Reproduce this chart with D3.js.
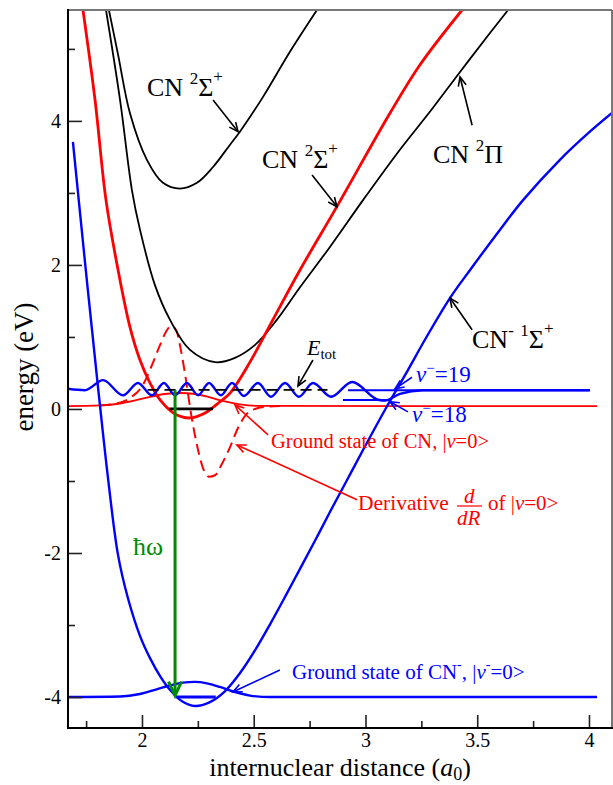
<!DOCTYPE html>
<html>
<head>
<meta charset="utf-8">
<script src="https://cdn.jsdelivr.net/npm/d3@7"></script>
<style>
  body { margin: 0; background: #fff; }
  text { font-family: "Liberation Serif", "Times New Roman", serif; }
</style>
</head>
<body>
<svg id="chart" width="613" height="785"></svg>
<script>
// ---- data (internuclear distance in a0, energy in eV) ----
var xMajor = [2, 2.5, 3, 3.5, 4];
var xMinor = [1.75, 2.25, 2.75, 3.25, 3.75];
var yMajor = [-4, -2, 0, 2, 4];
var yMinor = [-3, -1, 1, 3, 5];

// CN X 2Sigma+ potential (red)
var cnXPot = [[1.736,5.54],[1.790,4.29],[1.839,2.90],[1.893,1.93],[1.946,1.14],[1.991,0.68],
  [2.036,0.36],[2.081,0.125],[2.148,-0.07],[2.215,-0.125],[2.282,-0.056],[2.349,0.10],
  [2.394,0.22],[2.483,0.65],[2.586,1.24],[2.707,1.93],[2.872,2.81],[3.110,4.11],[3.244,4.78],[3.432,5.54]];
// CN A 2Pi potential (black)
var cnPiPot = [[1.839,5.54],[1.902,4.29],[1.955,3.04],[1.991,2.49],[2.058,1.72],[2.125,1.24],
  [2.215,0.82],[2.327,0.65],[2.416,0.71],[2.506,0.89],[2.604,1.24],[2.707,1.69],[2.841,2.25],
  [2.989,2.90],[3.154,3.60],[3.289,4.13],[3.423,4.68],[3.557,5.22],[3.638,5.54]];
// CN B 2Sigma+ potential (black)
var cnBPot = [[1.852,5.54],[1.893,4.92],[1.946,4.11],[2.022,3.46],[2.094,3.14],[2.170,3.06],
  [2.246,3.14],[2.318,3.36],[2.394,3.67],[2.438,3.85],[2.541,4.33],[2.662,4.96],[2.783,5.54]];
// CN- X 1Sigma+ potential (blue)
var anionPot = [[1.691,3.71],[1.745,2.04],[1.799,0.43],[1.848,-0.96],[1.893,-2.03],[1.937,-2.625],
  [1.991,-3.15],[2.036,-3.46],[2.081,-3.71],[2.125,-3.90],[2.179,-4.06],[2.237,-4.125],
  [2.304,-4.07],[2.371,-3.92],[2.438,-3.67],[2.506,-3.35],[2.573,-2.99],[2.640,-2.61],[2.707,-2.22],
  [2.774,-1.83],[2.841,-1.43],[2.917,-0.99],[2.989,-0.57],[3.087,-0.014],[3.177,0.47],[3.275,1.01],
  [3.378,1.54],[3.468,1.93],[3.602,2.49],[3.705,2.90],[3.870,3.46],[4.004,3.85],[4.103,4.11]];

// CN ground vibrational state |v=0> (red, thin) on its level
var cnGround = [[1.669,0.04],[1.812,0.049],[1.902,0.076],[1.969,0.118],[2.036,0.167],[2.103,0.208],
  [2.170,0.222],[2.237,0.208],[2.304,0.160],[2.371,0.104],[2.438,0.063],[2.528,0.042],[4.036,0.04]];
// derivative d/dR |v=0> (red, dashed)
var cnDeriv = [[1.812,0.049],[1.879,0.07],[1.946,0.153],[2.004,0.333],[2.045,0.611],[2.081,0.889],
  [2.107,1.07],[2.130,1.15],[2.152,1.10],[2.174,0.82],[2.197,0.40],[2.219,-0.056],[2.246,-0.50],
  [2.273,-0.82],[2.300,-0.94],[2.327,-0.92],[2.358,-0.76],[2.394,-0.53],[2.430,-0.26],[2.465,-0.083],
  [2.506,0.0],[2.550,0.028],[2.617,0.04]];
// CN- v=19 wavefunction (blue)
var anionV19 = [[1.669,0.28],[1.745,0.26],[1.826,0.40],[1.915,0.19],[1.982,0.36],[2.045,0.19],
  [2.098,0.36],[2.148,0.19],[2.201,0.36],[2.251,0.19],[2.300,0.36],[2.353,0.19],[2.403,0.36],
  [2.456,0.18],[2.519,0.36],[2.577,0.17],[2.640,0.36],[2.702,0.17],[2.765,0.36],[2.846,0.17],
  [2.940,0.375],[3.060,0.125],[3.087,0.118],[3.154,0.21],[3.257,0.26],[4.004,0.26]];
// CN- ground vibrational state |v-=0> (blue)
var anionGround = [[1.669,-4.0],[1.902,-3.993],[1.991,-3.958],[2.058,-3.90],[2.125,-3.84],[2.183,-3.80],
  [2.237,-3.79],[2.291,-3.81],[2.349,-3.86],[2.416,-3.93],[2.483,-3.98],[2.573,-4.0],[4.036,-4.0]];

// levels: [x start, x end, energy]
var cnLevel0 = [2.121, 2.318, 0.0];
var eTotLevel = [2.025, 2.830, 0.265];
var v19Level = [2.922, 4.004, 0.26];
var v18Level = [2.899, 3.110, 0.125];
var anionLevel0 = [2.155, 2.330, -4.0];
var photon = [2.148, 0.26, -4.0]; // x, from, to

// ---- layout ----
var x = d3.scaleLinear().domain([1.669, 4.103]).range([68, 612]);
var y = d3.scaleLinear().domain([-4.43, 5.54]).range([728, 10]);

var svg = d3.select("#chart");
svg.append("defs").append("clipPath").attr("id", "clip")
  .append("rect").attr("x", 68).attr("y", 10).attr("width", 544).attr("height", 718);

var plot = svg.append("g").attr("clip-path", "url(#clip)");

var smooth = d3.line().x(d => x(d[0])).y(d => y(d[1])).curve(d3.curveCatmullRom.alpha(0.5));
var wave = d3.line().x(d => x(d[0])).y(d => y(d[1])).curve(d3.curveMonotoneX);

function curve(data, gen, color, w, dash) {
  var p = plot.append("path").datum(data).attr("d", gen)
    .attr("fill", "none").attr("stroke", color).attr("stroke-width", w)
    .attr("stroke-linejoin", "round");
  if (dash) p.attr("stroke-dasharray", dash);
  return p;
}
function level(l, color, w, dash) {
  var ln = plot.append("line")
    .attr("x1", x(l[0])).attr("x2", x(l[1]))
    .attr("y1", y(l[2])).attr("y2", y(l[2]))
    .attr("stroke", color).attr("stroke-width", w);
  if (dash) ln.attr("stroke-dasharray", dash);
}

// wavefunctions and levels
curve(cnGround, wave, "#ff0000", 1.8);
curve(cnDeriv, wave, "#ff0000", 2, "11,6");
curve(anionGround, wave, "#0000ff", 2.4);
level(anionLevel0, "#0000ff", 3);

// potentials
curve(cnBPot, smooth, "#000", 1.8);
curve(cnPiPot, smooth, "#000", 1.8);
curve(cnXPot, smooth, "#ff0000", 2.8);
curve(anionPot, smooth, "#0000ff", 2.4);

curve(anionV19, wave, "#0000ff", 2.4);
level(v19Level, "#0000ff", 2);
level(v18Level, "#0000ff", 2);
level(eTotLevel, "#000", 1.8, "11,6");
level(cnLevel0, "#000", 2.8);

// arrows
function arrow(g, p1, p2, color, w, len, half) {
  var x1 = x(p1[0]), y1 = y(p1[1]), x2 = x(p2[0]), y2 = y(p2[1]);
  var a = Math.atan2(y2 - y1, x2 - x1);
  g.append("line").attr("x1", x1).attr("y1", y1).attr("x2", x2).attr("y2", y2)
    .attr("stroke", color).attr("stroke-width", w);
  var bx = x2 - len * Math.cos(a), by = y2 - len * Math.sin(a);
  var hx = half * Math.sin(a), hy = half * Math.cos(a);
  g.append("path")
    .attr("d", "M" + (bx + hx) + "," + (by - hy) + "L" + x2 + "," + y2 + "L" + (bx - hx) + "," + (by + hy))
    .attr("fill", "none").attr("stroke", color).attr("stroke-width", w)
    .attr("stroke-linejoin", "miter");
}

var ann = svg.append("g");
arrow(plot, [photon[0], photon[1]], [photon[0], photon[2] + 0.02], "#008b00", 3, 14, 6.5);
arrow(ann, [2.318, 4.29], [2.430, 3.85], "#000", 1.6, 9, 4);
arrow(ann, [2.761, 3.25], [2.872, 2.81], "#000", 1.6, 9, 4);
arrow(ann, [3.477, 3.94], [3.423, 4.61], "#000", 1.6, 9, 4);
arrow(ann, [3.477, 1.10], [3.378, 1.54], "#000", 1.6, 9, 4);
arrow(ann, [2.765, 0.68], [2.698, 0.32], "#000", 1.6, 9, 4);
arrow(ann, [3.208, 0.44], [3.132, 0.28], "#0000ff", 1.6, 9, 4);
arrow(ann, [3.190, -0.04], [3.110, 0.10], "#0000ff", 1.6, 9, 4);
arrow(ann, [2.564, -0.36], [2.416, 0.056], "#ff0000", 1.6, 9, 4);
arrow(ann, [2.962, -1.26], [2.425, -0.50], "#ff0000", 1.6, 9, 4);
arrow(ann, [2.617, -3.625], [2.407, -3.93], "#0000ff", 1.6, 9, 4);

// rich text: parts {t, shift, size, it}
function rich(px, py, parts, color, size) {
  var t = svg.append("text").attr("x", px).attr("y", py)
    .attr("fill", color).attr("font-size", size);
  var cur = 0;
  parts.forEach(function (p) {
    var s = t.append("tspan").text(p.t);
    var target = p.shift || 0;
    if (target !== cur) s.attr("dy", target - cur);
    cur = target;
    if (p.size) s.attr("font-size", p.size);
    if (p.it) s.attr("font-style", "italic");
  });
  return t;
}

rich(147, 96, [{t: "CN "}, {t: "2", shift: -12, size: 17}, {t: "Σ"}, {t: "+", shift: -14, size: 17}], "#000", 26);
rich(262, 168, [{t: "CN "}, {t: "2", shift: -12, size: 17}, {t: "Σ"}, {t: "+", shift: -14, size: 17}], "#000", 26);
rich(433, 163, [{t: "CN "}, {t: "2", shift: -12, size: 17}, {t: "Π"}], "#000", 26);
rich(472, 348, [{t: "CN"}, {t: "-", shift: -12, size: 17}, {t: " "}, {t: "1", shift: -12, size: 17}, {t: "Σ"}, {t: "+", shift: -14, size: 17}], "#000", 26);
rich(307, 355, [{t: "E", it: true}, {t: "tot", shift: 4, size: 15}], "#000", 22);
rich(416, 382, [{t: "v", it: true}, {t: "−", shift: -9, size: 15}, {t: "=19"}], "#0000ff", 23);
rich(412, 422, [{t: "v", it: true}, {t: "−", shift: -9, size: 15}, {t: "=18"}], "#0000ff", 23);
rich(271, 448, [{t: "Ground state of CN, |"}, {t: "v", it: true}, {t: "=0>"}], "#ff0000", 20.5);
rich(358, 510, [{t: "Derivative"}], "#ff0000", 21.5);
rich(464, 503, [{t: "d", it: true}], "#ff0000", 21);
rich(457, 525, [{t: "dR", it: true}], "#ff0000", 21);
svg.append("line").attr("x1", 457).attr("x2", 482).attr("y1", 506).attr("y2", 506)
  .attr("stroke", "#ff0000").attr("stroke-width", 1.2);
rich(488, 510, [{t: "of |"}, {t: "v", it: true}, {t: "=0>"}], "#ff0000", 21);
rich(292, 679, [{t: "Ground state of CN"}, {t: "-", shift: -10, size: 14}, {t: ", |"}, {t: "v", it: true}, {t: "-", shift: -10, size: 14}, {t: "=0>"}], "#0000ff", 21);
rich(133, 555, [{t: "ħω"}], "#008b00", 26);

// ---- axes ----
var axisG = svg.append("g");
function styleAxis(g) {
  g.select(".domain").remove();
  g.selectAll(".tick line").attr("stroke", "#222").attr("stroke-width", 1.6);
  g.selectAll("text").attr("font-size", 20).attr("fill", "#000")
    .style("font-family", "'Liberation Serif', 'Times New Roman', serif");
}
axisG.append("g").attr("transform", "translate(0,728)")
  .call(d3.axisBottom(x).tickValues(xMajor).tickSize(-13).tickPadding(5).tickFormat(d => String(d)))
  .call(styleAxis);
axisG.append("g").attr("transform", "translate(0,728)")
  .call(d3.axisBottom(x).tickValues(xMinor).tickSize(-7).tickFormat(""))
  .call(styleAxis)
  .call(g => g.selectAll("text").remove());
axisG.append("g").attr("transform", "translate(68,0)")
  .call(d3.axisLeft(y).tickValues(yMajor).tickSize(-14).tickPadding(7).tickFormat(d => String(d)))
  .call(styleAxis);
axisG.append("g").attr("transform", "translate(68,0)")
  .call(d3.axisLeft(y).tickValues(yMinor).tickSize(-7).tickFormat(""))
  .call(styleAxis)
  .call(g => g.selectAll("text").remove());

// frame
svg.append("line").attr("x1", 68).attr("x2", 612).attr("y1", 10).attr("y2", 10).attr("stroke", "#777").attr("stroke-width", 2);
svg.append("line").attr("x1", 612).attr("x2", 612).attr("y1", 10).attr("y2", 728).attr("stroke", "#777").attr("stroke-width", 2);
svg.append("line").attr("x1", 68).attr("x2", 68).attr("y1", 9).attr("y2", 729).attr("stroke", "#000").attr("stroke-width", 2);
svg.append("line").attr("x1", 67).attr("x2", 613).attr("y1", 728).attr("y2", 728).attr("stroke", "#000").attr("stroke-width", 2);

// axis titles
svg.append("text").attr("transform", "translate(33,367) rotate(-90)")
  .attr("text-anchor", "middle").attr("font-size", 27).text("energy (eV)");
var xt = svg.append("text").attr("x", 340).attr("y", 776).attr("text-anchor", "middle").attr("font-size", 26);
xt.append("tspan").text("internuclear distance (");
xt.append("tspan").attr("font-style", "italic").text("a");
xt.append("tspan").attr("dy", 4).attr("font-size", 18).text("0");
xt.append("tspan").attr("dy", -4).text(")");
</script>
</body>
</html>
